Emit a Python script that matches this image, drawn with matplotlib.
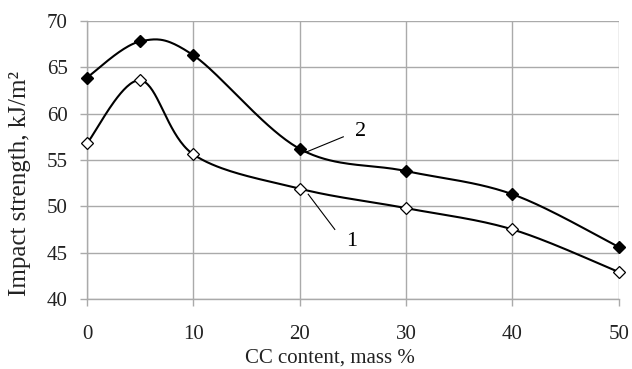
import numpy as np
import matplotlib.pyplot as plt

# CC content, mass %
cc = [0, 5, 10, 20, 30, 40, 50]
# impact strength, kJ/m2
series1 = [56.8, 63.6, 55.6, 51.9, 49.8, 47.5, 42.9]
series2 = [63.9, 67.8, 66.3, 56.2, 53.8, 51.3, 45.6]

x_ticks = [0, 10, 20, 30, 40, 50]
y_ticks = [40, 45, 50, 55, 60, 65, 70]


def smooth(x, y, n=40):
    # excel-like smoothed line: bezier through points, catmull-rom controls
    x = np.asarray(x, float)
    y = np.asarray(y, float)
    px = np.concatenate([[x[0]], x, [x[-1]]])
    py = np.concatenate([[y[0]], y, [y[-1]]])
    xs, ys = [], []
    t = np.linspace(0, 1, n)
    for i in range(1, len(px) - 2):
        p0 = np.array([px[i], py[i]])
        p3 = np.array([px[i + 1], py[i + 1]])
        c1 = p0 + (np.array([px[i + 1], py[i + 1]]) - np.array([px[i - 1], py[i - 1]])) / 6
        c2 = p3 - (np.array([px[i + 2], py[i + 2]]) - np.array([px[i], py[i]])) / 6
        b = ((1 - t) ** 3)[:, None] * p0 + (3 * (1 - t) ** 2 * t)[:, None] * c1 \
            + (3 * (1 - t) * t ** 2)[:, None] * c2 + (t ** 3)[:, None] * p3
        xs.extend(b[:, 0])
        ys.extend(b[:, 1])
    return xs, ys


plt.rcParams['font.family'] = ['Liberation Serif']

fig = plt.figure(figsize=(6.32, 3.69), dpi=100)
ax = fig.add_axes([0.1377, 0.190, 0.8413, 0.753])

sx, sy = smooth(cc, series2)
ax.plot(sx, sy, color='black', lw=1.5, zorder=3)
ax.plot(cc, series2, ls='none', marker='D', ms=6.5, mfc='black', mec='black',
        zorder=4, clip_on=False)

sx, sy = smooth(cc, series1)
ax.plot(sx, sy, color='black', lw=1.5, zorder=3)
ax.plot(cc, series1, ls='none', marker='D', ms=6.5, mfc='white', mec='black', mew=0.9,
        zorder=4, clip_on=False)

# curve labels
ax.plot([20.5, 24.1], [55.8, 57.5], color='black', lw=0.8, zorder=2)
ax.text(25.75, 58.1, '2', fontsize=16, ha='center', va='center')
ax.plot([20.8, 23.3], [51.3, 47.5], color='black', lw=0.8, zorder=2)
ax.text(24.9, 46.2, '1', fontsize=16, ha='center', va='center')

ax.set_xlim(0, 50)
ax.set_ylim(40, 70)
ax.set_xticks(x_ticks)
ax.set_yticks(y_ticks)
ax.grid(True, color='#aaaaaa', lw=1)
ax.set_axisbelow(True)
for s in ['top', 'right']:
    ax.spines[s].set_visible(False)
for s in ['left', 'bottom']:
    ax.spines[s].set_color('#aaaaaa')
    ax.spines[s].set_linewidth(1)
ax.tick_params(axis='both', colors='#aaaaaa', length=5, width=1, labelsize=15, labelcolor='#222222')
ax.tick_params(axis='x', pad=14)
ax.tick_params(axis='y', pad=9)

xl = ax.set_xlabel('CC content, mass %', fontsize=15, color='#222222')
xl.set_va('center')
ax.xaxis.set_label_coords(0.457, -0.214)
yl = ax.set_ylabel('Impact strength, kJ/m²', fontsize=18, color='#222222')
yl.set_va('center')
ax.yaxis.set_label_coords(-0.126, 0.417)

fig.savefig('out.png', dpi=100)
